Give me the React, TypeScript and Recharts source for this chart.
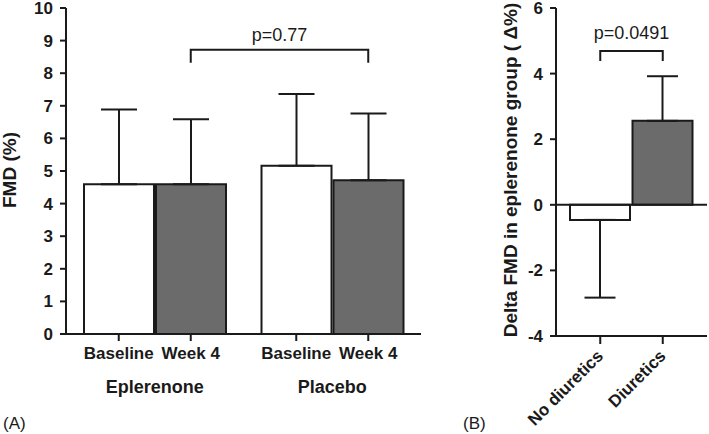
import { BarChart, Bar, XAxis, YAxis, ErrorBar, Cell, ReferenceLine } from 'recharts';

const FONT = '"Liberation Sans", Arial, Helvetica, sans-serif';
const INK = '#1a1a1a';
const GREY = '#6b6b6b';

// panel A: FMD by treatment group
const groups = ['Eplerenone', 'Placebo'];
const phases = ['Baseline', 'Week 4'];
const baselineMean = [4.59, 5.16];
const baselineSd = [2.3, 2.2];
const week4Mean = [4.59, 4.72];
const week4Sd = [2.0, 2.04];
const fmdTicks = [0, 1, 2, 3, 4, 5, 6, 7, 8, 9, 10];
const pValueA = 'p=0.77';
const bracketLevelA = 8.72;

// panel B: delta FMD in eplerenone group
const diureticGroups = ['No diuretics', 'Diuretics'];
const deltaMean = [-0.46, 2.56];
const deltaErr = [2.37, 1.36];
const deltaTicks = [-4, -2, 0, 2, 4, 6];
const pValueB = 'p=0.0491';
const bracketLevelB = 4.69;

const dataA = groups.map((g, i) => ({
  group: g,
  baseline: baselineMean[i],
  baselineErr: [0, baselineSd[i]],
  week4: week4Mean[i],
  week4Err: [0, week4Sd[i]],
}));

const dataB = diureticGroups.map((d, i) => ({
  name: d,
  delta: deltaMean[i],
  err: deltaMean[i] < 0 ? [deltaErr[i], 0] : [0, deltaErr[i]],
}));

const BAR_A = 70;
const GAP_A = 2;

const GroupTick = ({ x, y, payload }: any) => {
  const off = (BAR_A + GAP_A) / 2;
  return (
    <g>
      {phases.map((p, i) => {
        const cx = x + (i === 0 ? -off : off);
        return (
          <g key={p}>
            <line x1={cx} x2={cx} y1={y} y2={y + 7} stroke={INK} strokeWidth={2} />
            <text x={cx} y={y + 25} textAnchor="middle" fontSize={17} fontWeight="bold" fill={INK}>
              {p}
            </text>
          </g>
        );
      })}
      <text x={x} y={y + 59} textAnchor="middle" fontSize={18} fontWeight="bold" fill={INK}>
        {payload.value}
      </text>
    </g>
  );
};

const SlantTick = ({ x, y, payload }: any) => (
  <text
    x={x + 4}
    y={y}
    transform={`rotate(-45 ${x + 4} ${y})`}
    textAnchor="end"
    fontSize={17}
    fontWeight="bold"
    fill={INK}
  >
    {payload.value}
  </text>
);

const bracket = (shift: number, drop: number, lift: number, label: string) => (props: any) => {
  const { x1, x2, y1 } = props;
  const a = x1 + shift;
  const b = x2 + shift;
  return (
    <g>
      <path d={`M${a},${y1 + drop}V${y1}H${b}V${y1 + drop}`} fill="none" stroke={INK} strokeWidth={2} />
      <text x={(a + b) / 2} y={y1 - lift} textAnchor="middle" fontSize={18} fill={INK}>
        {label}
      </text>
    </g>
  );
};

const tickStyle = { fontSize: 17, fontWeight: 'bold', fill: INK };

export default function App() {
  return (
    <div style={{ position: 'absolute', left: 0, top: 0, width: 709, height: 434, fontFamily: FONT, background: '#fff' }}>
      <div style={{ position: 'absolute', left: 0, top: 0 }}>
        <BarChart width={430} height={434} data={dataA} margin={{ top: 8, right: 9, left: 0, bottom: 0 }} barSize={BAR_A} barGap={GAP_A}>
          <XAxis
            dataKey="group"
            height={100}
            tickSize={0}
            tickMargin={0}
            tickLine={false}
            axisLine={{ stroke: INK, strokeWidth: 2 }}
            tick={<GroupTick />}
            interval={0}
          />
          <YAxis
            width={66}
            domain={[0, 10]}
            ticks={fmdTicks}
            interval={0}
            tickSize={6}
            tickMargin={7}
            axisLine={{ stroke: INK, strokeWidth: 2 }}
            tickLine={{ stroke: INK, strokeWidth: 2 }}
            tick={tickStyle}
          />
          <Bar dataKey="baseline" fill="#ffffff" stroke={INK} strokeWidth={2} isAnimationActive={false}>
            <ErrorBar dataKey="baselineErr" width={18} stroke={INK} strokeWidth={2} isAnimationActive={false} />
          </Bar>
          <Bar dataKey="week4" fill={GREY} stroke={INK} strokeWidth={2} isAnimationActive={false}>
            <ErrorBar dataKey="week4Err" width={18} stroke={INK} strokeWidth={2} isAnimationActive={false} />
          </Bar>
          <ReferenceLine
            segment={[
              { x: groups[0], y: bracketLevelA },
              { x: groups[1], y: bracketLevelA },
            ]}
            shape={bracket((BAR_A + GAP_A) / 2, 13, 9, pValueA)}
          />
        </BarChart>
      </div>
      <div style={{ position: 'absolute', left: 440, top: 0 }}>
        <BarChart width={269} height={434} data={dataB} margin={{ top: 8, right: 2, left: 0, bottom: 0 }} barSize={60}>
          <XAxis
            dataKey="name"
            height={98}
            padding={{ left: 13, right: 13 }}
            tickSize={8}
            tickMargin={13}
            axisLine={{ stroke: INK, strokeWidth: 2 }}
            tickLine={{ stroke: INK, strokeWidth: 2 }}
            tick={<SlantTick />}
            interval={0}
          />
          <YAxis
            width={116}
            domain={[-4, 6]}
            ticks={deltaTicks}
            interval={0}
            tickSize={6}
            tickMargin={7}
            axisLine={{ stroke: INK, strokeWidth: 2 }}
            tickLine={{ stroke: INK, strokeWidth: 2 }}
            tick={tickStyle}
          />
          <ReferenceLine y={0} stroke={INK} strokeWidth={2} />
          <Bar dataKey="delta" stroke={INK} strokeWidth={2} isAnimationActive={false}>
            {dataB.map((d, i) => (
              <Cell key={d.name} fill={i === 0 ? '#ffffff' : GREY} />
            ))}
            <ErrorBar dataKey="err" width={15.5} stroke={INK} strokeWidth={2} isAnimationActive={false} />
          </Bar>
          <ReferenceLine
            segment={[
              { x: diureticGroups[0], y: bracketLevelB },
              { x: diureticGroups[1], y: bracketLevelB },
            ]}
            shape={bracket(0, 10, 12, pValueB)}
          />
        </BarChart>
      </div>
      <svg width={709} height={434} style={{ position: 'absolute', left: 0, top: 0, pointerEvents: 'none' }}>
        <text x={16} y={170} transform="rotate(-90 16 170)" textAnchor="middle" fontSize={19} fontWeight="bold" fill={INK}>
          FMD (%)
        </text>
        <text x={517} y={170} transform="rotate(-90 517 170)" textAnchor="middle" fontSize={19} fontWeight="bold" fill={INK}>
          Delta FMD in eplerenone group ( Δ%)
        </text>
        <text x={3} y={429} fontSize={17} fill={INK}>(A)</text>
        <text x={463} y={429} fontSize={17} fill={INK}>(B)</text>
      </svg>
    </div>
  );
}
